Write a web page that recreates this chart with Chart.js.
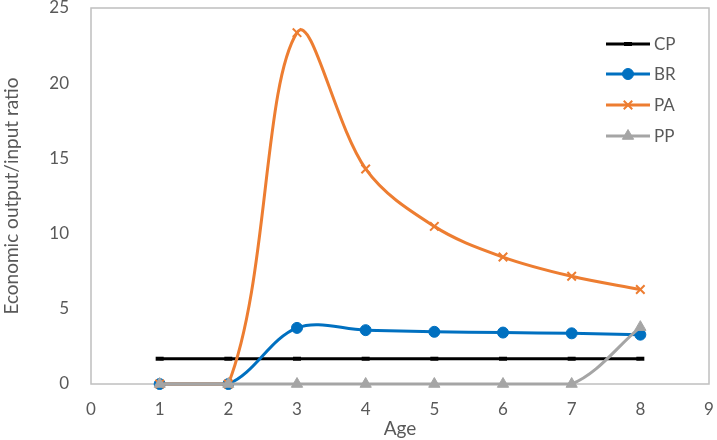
<!DOCTYPE html>
<html>
<head>
<meta charset="utf-8">
<script src="https://cdn.jsdelivr.net/npm/chart.js@4.4.1/dist/chart.umd.min.js"></script>
<style>
  html, body { margin: 0; padding: 0; background: #fff; }
  #wrap { width: 717px; height: 440px; position: relative; }
</style>
</head>
<body>
<div id="wrap"><canvas id="c" width="717" height="440"></canvas></div>
<script>
// ---- data ----
const ages = [1, 2, 3, 4, 5, 6, 7, 8];
const seriesNames = ["CP", "BR", "PA", "PP"];
const cpValues = [1.68, 1.68, 1.68, 1.68, 1.68, 1.68, 1.68, 1.68];
const brValues = [0, 0, 3.73, 3.58, 3.47, 3.42, 3.37, 3.28];
const paValues = [0, 0, 23.36, 14.3, 10.48, 8.44, 7.16, 6.28];
const ppValues = [0, 0, 0, 0, 0, 0, 0, 3.78];
const xTicks = [0, 1, 2, 3, 4, 5, 6, 7, 8, 9];
const yTicks = [0, 5, 10, 15, 20, 25];

const FONT = "Lato, 'Open Sans', sans-serif";
const TXT = "#595959";
const toPts = (vals) => ages.map((a, i) => ({ x: a, y: vals[i] }));

const colors = ["#000000", "#0070C0", "#ED7D31", "#A5A5A5"];
const styles = [
  { pointStyle: "line", pointRadius: 4, pointBorderWidth: 4 },
  { pointStyle: "circle", pointRadius: 5.5, pointBorderWidth: 1 },
  { pointStyle: "crossRot", pointRadius: 6, pointBorderWidth: 2 },
  { pointStyle: "triangle", pointRadius: 6.5, pointBorderWidth: 1 }
];
const allValues = [cpValues, brValues, paValues, ppValues];

const datasets = allValues.map((vals, i) => ({
  label: seriesNames[i],
  data: toPts(vals),
  borderColor: colors[i],
  backgroundColor: colors[i],
  pointBackgroundColor: colors[i],
  pointBorderColor: colors[i],
  borderWidth: 3,
  tension: i === 0 ? 0 : 0.35,
  fill: false,
  clip: false,
  order: 4 - i,
  ...styles[i]
}));

const frameAndLegend = {
  id: "frameAndLegend",
  beforeDatasetsDraw(chart) {
    const { ctx, chartArea: a } = chart;
    ctx.save();
    ctx.strokeStyle = "#BFBFBF";
    ctx.lineWidth = 1.5;
    ctx.strokeRect(a.left, a.top, a.right - a.left, a.bottom - a.top);
    ctx.restore();
  },
  afterDatasetsDraw(chart) {
    const { ctx } = chart;
    ctx.save();
    const x0 = 606, x1 = 650, tx = 654;
    const ys = [44, 74, 105, 136];
    chart.data.datasets.forEach((ds, i) => {
      const y = ys[i];
      ctx.strokeStyle = ds.borderColor;
      ctx.lineWidth = 3;
      ctx.beginPath();
      ctx.moveTo(x0, y);
      ctx.lineTo(x1, y);
      ctx.stroke();
      ctx.fillStyle = ds.pointBackgroundColor;
      ctx.strokeStyle = ds.pointBorderColor;
      ctx.lineWidth = ds.pointBorderWidth;
      Chart.helpers.drawPoint(ctx, { pointStyle: ds.pointStyle, radius: ds.pointRadius, rotation: 0, borderWidth: ds.pointBorderWidth }, (x0 + x1) / 2, y);
      ctx.fillStyle = TXT;
      ctx.font = "17px " + FONT;
      ctx.textBaseline = "middle";
      ctx.textAlign = "left";
      ctx.fillText(ds.label, tx, y + 1);
    });
    ctx.restore();
  }
};

new Chart(document.getElementById("c"), {
  type: "line",
  data: { datasets },
  options: {
    responsive: false,
    animation: false,
    devicePixelRatio: 1,
    layout: { padding: { left: 0, right: 4, top: 7, bottom: 0 } },
    plugins: { legend: { display: false }, tooltip: { enabled: false } },
    scales: {
      x: {
        type: "linear",
        min: 0, max: 9,
        afterBuildTicks(scale) { scale.ticks = xTicks.map(v => ({ value: v })); },
        afterFit(scale) { scale.height = 56; scale.paddingLeft = 0; scale.paddingRight = 0; },
        grid: { display: false, drawTicks: false },
        border: { display: false },
        ticks: { color: TXT, font: { size: 17, family: FONT }, padding: 15, maxRotation: 0 },
        title: { display: true, text: "Age", color: TXT, font: { size: 19, family: FONT }, padding: { top: 0, bottom: 0 } }
      },
      y: {
        type: "linear",
        min: 0, max: 25,
        afterBuildTicks(scale) { scale.ticks = yTicks.map(v => ({ value: v })); },
        afterFit(scale) { scale.width = 91; scale.paddingTop = 0; scale.paddingBottom = 0; },
        grid: { display: false, drawTicks: false },
        border: { display: false },
        ticks: { color: TXT, font: { size: 17, family: FONT }, padding: 22 },
        title: { display: true, text: "Economic output/input ratio", color: TXT, font: { size: 19, family: FONT }, padding: { top: 0, bottom: 0 } }
      }
    }
  },
  plugins: [frameAndLegend]
});
</script>
</body>
</html>
